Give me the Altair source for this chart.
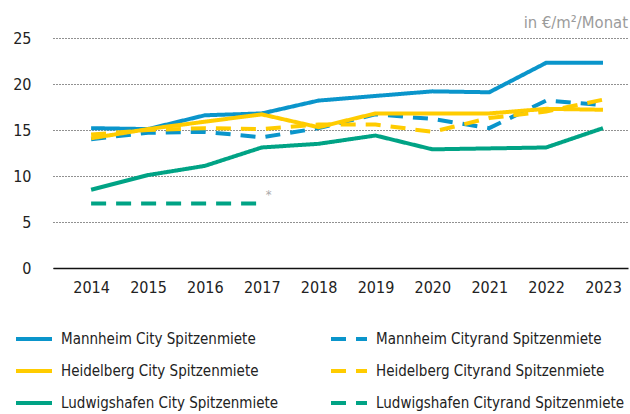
import altair as alt
import pandas as pd

years = [2014, 2015, 2016, 2017, 2018, 2019, 2020, 2021, 2022, 2023]
series_names = [
    "Mannheim City Spitzenmiete",
    "Mannheim Cityrand Spitzenmiete",
    "Heidelberg City Spitzenmiete",
    "Heidelberg Cityrand Spitzenmiete",
    "Ludwigshafen City Spitzenmiete",
    "Ludwigshafen Cityrand Spitzenmiete",
]
mannheim_city = [15.2, 15.1, 16.6, 16.8, 18.2, 18.7, 19.2, 19.1, 22.3, 22.3]
mannheim_rand = [14.0, 14.7, 14.8, 14.2, 15.2, 16.7, 16.2, 15.2, 18.2, 17.7]
heidelberg_city = [14.1, 15.1, 15.9, 16.7, 15.3, 16.8, 16.8, 16.8, 17.3, 17.2]
heidelberg_rand = [14.5, 15.0, 15.2, 15.1, 15.6, 15.6, 14.8, 16.3, 17.0, 18.3]
ludwig_city = [8.5, 10.1, 11.1, 13.1, 13.5, 14.4, 12.9, 13.0, 13.1, 15.2]
ludwig_rand = [7.0, 7.0, 7.0, 7.0, None, None, None, None, None, None]

series_values = [mannheim_city, mannheim_rand, heidelberg_city,
                 heidelberg_rand, ludwig_city, ludwig_rand]
series_colors = ["#0a95cb", "#0a95cb", "#ffcc00", "#ffcc00", "#00a385", "#00a385"]
series_dashes = [[1, 0], [15, 10], [1, 0], [15, 10], [1, 0], [15, 10]]

y_ticks = [0, 5, 10, 15, 20, 25]
unit_label = "in €/m²/Monat"
note_year = [2017]
note_value = [7.0]
note_text = ["*"]

rows = []
for name, vals in zip(series_names, series_values):
    for yr, v in zip(years, vals):
        if v is not None:
            rows.append({"Jahr": yr, "Wert": v, "Serie": name})
df = pd.DataFrame(rows)
notes = pd.DataFrame({"Jahr": note_year, "Wert": note_value, "label": note_text})

FONT = "DejaVu Sans Condensed, Roboto, sans-serif"

x_enc = alt.X("Jahr:Q",
              scale=alt.Scale(domain=[2013.33, 2023.44], nice=False, zero=False),
              axis=alt.Axis(values=years, format="d", title=None, grid=False,
                            ticks=False, domain=True, domainColor="#111111",
                            domainWidth=1.5, labelFontSize=16, labelFont=FONT,
                            labelColor="#222222", labelPadding=11))
y_enc = alt.Y("Wert:Q",
              scale=alt.Scale(domain=[0, 25], nice=False),
              axis=alt.Axis(values=y_ticks, title=None, grid=True,
                            gridDash=[1, 2], gridColor="#222222", gridWidth=1,
                            ticks=False, domain=False, labelFontSize=16,
                            labelFont=FONT, labelColor="#222222",
                            labelPadding=22))

lines = alt.Chart(df).mark_line(strokeWidth=4, strokeCap="butt").encode(
    x=x_enc,
    y=y_enc,
    color=alt.Color("Serie:N",
                    scale=alt.Scale(domain=series_names, range=series_colors),
                    sort=series_names, title=None),
    strokeDash=alt.StrokeDash("Serie:N",
                              scale=alt.Scale(domain=series_names, range=series_dashes),
                              sort=series_names, title=None),
    order=alt.Order("Jahr:Q"),
)

note = alt.Chart(notes).mark_text(dx=7, dy=-9, fontSize=13, color="#aaaaaa",
                                  font=FONT).encode(
    x=alt.X("Jahr:Q"), y=alt.Y("Wert:Q"), text="label:N")

chart = alt.layer(lines, note).properties(
    width=575,
    height=230,
    title=alt.TitleParams(unit_label, anchor="end", color="#9b9b9b",
                          fontSize=16.5, font=FONT, fontWeight="normal",
                          offset=-1, frame="group"),
    autosize=alt.AutoSizeParams(type="none"),
    padding={"left": 53, "top": 38, "right": 2, "bottom": 146},
).configure_view(stroke=None).configure_legend(
    orient="none",
    legendX=-39,
    legendY=281,
    direction="horizontal",
    columns=2,
    columnPadding=44,
    rowPadding=4,
    symbolType="stroke",
    symbolSize=1296,
    symbolStrokeWidth=4,
    labelFont=FONT,
    labelFontSize=15,
    labelColor="#222222",
    labelLimit=0,
    labelOffset=7,
)

chart.save("out.html", embed_options={"renderer": "svg", "actions": False})
